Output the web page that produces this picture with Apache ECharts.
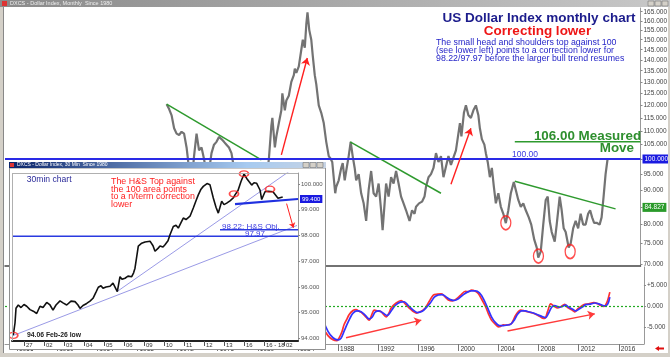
<!DOCTYPE html>
<html><head><meta charset="utf-8">
<script src="https://cdn.jsdelivr.net/npm/echarts@6/dist/echarts.min.js"></script>
<style>
html,body{margin:0;padding:0;background:#fff;overflow:hidden;}
#main{position:absolute;left:0;top:0;width:670px;height:357px;}
#inset{position:absolute;left:9px;top:162px;width:317px;height:188px;background:#fff;}
</style></head><body>
<div id="main"></div><div id="inset"></div>
<script>
const FONT = "'Liberation Sans', Arial, sans-serif";
const L = v => Math.log10(v);

// ---------- main chart data ----------
const yearTicks = [1956,1960,1964,1968,1972,1976,1980,1984,1988,1992,1996,2000,2004,2008,2012,2016];
const priceTicks = [70,75,80,85,90,95,100,105,110,115,120,125,130,135,140,145,150,155,160,165];
const macdTicks = [-5,0,5];
const dxy = [
[1971.00,120.5],[1971.25,118.5],[1971.50,116],[1971.75,111],[1972.00,109],[1972.25,108.5],[1972.50,109.7],[1972.75,109],
[1973.00,104],[1973.17,99],[1973.50,92],[1973.75,101],[1974.00,109],[1974.25,103],[1974.50,104],[1974.75,100],
[1975.00,95],[1975.25,96],[1975.50,102],[1975.75,105],[1976.00,106],[1976.25,107.8],[1976.50,107],[1976.75,106],
[1977.00,105],[1977.25,104],[1977.50,102],[1977.75,97],[1978.00,93],[1978.25,91],[1978.50,87],[1978.75,84],
[1979.00,88],[1979.25,88.5],[1979.50,86],[1979.75,86.5],[1980.00,86],[1980.25,90],[1980.50,85],[1980.75,88],
[1981.00,93],[1981.25,100],[1981.50,112],[1981.60,115],[1981.85,104],[1982.00,108],[1982.25,113],[1982.50,118],
[1982.60,125],[1982.85,118],[1983.00,122],[1983.25,124],[1983.50,130],[1983.75,133],[1983.85,136],[1984.00,134],
[1984.25,137],[1984.50,145],[1984.65,150],[1984.85,146],[1985.00,158],[1985.12,164.7],[1985.30,155],[1985.50,150],
[1985.65,142],[1985.85,133],[1986.00,129],[1986.25,120],[1986.50,117],[1986.75,113],[1987.00,106],[1987.25,101],
[1987.40,100.3],[1987.60,99],[1987.90,89],[1988.00,91],[1988.25,93],[1988.50,97],[1988.65,98.6],[1988.85,93],
[1989.00,96],[1989.25,101],[1989.45,106],[1989.65,101],[1989.85,97],[1990.00,93],[1990.25,95],[1990.50,89],
[1990.75,86],[1991.00,81],[1991.25,90],[1991.50,96],[1991.75,89],[1992.00,88],[1992.25,92],[1992.50,84],
[1992.65,78.5],[1992.85,86],[1993.00,92],[1993.25,88],[1993.50,94],[1993.75,92],[1994.00,96],[1994.25,92],
[1994.50,88],[1994.75,86],[1995.00,84],[1995.35,81],[1995.60,84],[1995.85,83],[1996.00,85],[1996.30,86],
[1996.60,86.5],[1996.85,88],[1997.00,91],[1997.25,94],[1997.50,95],[1997.75,97],[1998.00,102],[1998.25,99],
[1998.50,101],[1998.75,94],[1998.90,94],[1999.25,101],[1999.50,98],[1999.80,101],[2000.00,103],[2000.40,113],
[2000.55,108],[2000.80,117],[2001.00,120],[2001.25,116],[2001.50,115],[2001.75,118],[2002.00,120],[2002.25,116],
[2002.40,111],[2002.60,107],[2002.85,105],[2003.00,102],[2003.20,98.7],[2003.40,94],[2003.60,97],[2003.80,91],
[2004.00,86],[2004.25,89],[2004.50,85],[2004.75,83],[2005.00,80.4],[2005.25,84],[2005.50,89],[2005.80,92.5],
[2006.00,90],[2006.25,87],[2006.50,85],[2006.75,86],[2007.00,84],[2007.30,82],[2007.55,80],[2007.85,76],
[2008.10,74],[2008.25,71.5],[2008.50,73],[2008.75,80],[2009.00,87],[2009.20,88],[2009.40,81],[2009.60,78],
[2009.90,75.5],[2010.10,80],[2010.40,88],[2010.60,84],[2010.80,79],[2011.00,78],[2011.30,74],[2011.50,75],
[2011.75,79],[2012.00,81],[2012.25,79],[2012.50,83],[2012.75,80],[2013.00,80],[2013.25,83],[2013.45,84],
[2013.65,82],[2013.85,80.5],[2014.10,80.5],[2014.40,80],[2014.60,82],[2014.80,88],[2015.00,95],[2015.20,100]
];
const macdLine = [
[1985.0,6],[1985.5,4],[1986.0,-1],[1986.5,-5],[1987.0,-7],[1987.5,-8],[1987.9,-8.2],[1988.1,-7.6],[1988.4,-6],
[1988.6,-4.4],[1988.9,-3],[1989.1,-2],[1989.5,-1],[1989.8,-0.8],[1990.1,-1.2],[1990.4,-1.6],[1990.8,-2.6],
[1991.1,-3.3],[1991.4,-1.8],[1991.6,-0.9],[1992.0,-1.1],[1992.3,-1.3],[1992.8,-2.5],[1993.1,-1.5],[1993.3,-0.4],
[1993.8,0.8],[1994.3,1.4],[1994.7,0.6],[1995.1,-0.4],[1995.8,-1.6],[1996.3,-1.2],[1996.7,-0.4],[1997.1,1.2],
[1997.5,2.7],[1997.9,2.9],[1998.3,3.0],[1998.7,2.2],[1999.0,1.5],[1999.4,1.3],[1999.7,1.6],[2000.2,2.6],
[2000.7,3.6],[2001.0,3.5],[2001.3,3.9],[2001.7,3.6],[2002.0,3.0],[2002.3,1.8],[2002.7,0],[2003.0,-1.8],
[2003.3,-3.3],[2003.7,-4.3],[2004.0,-4.9],[2004.2,-4.8],[2004.5,-4.4],[2004.7,-4.5],[2005.0,-4.4],[2005.3,-4.1],
[2005.7,-2.2],[2006.0,-1.2],[2006.2,-0.9],[2006.6,-1.1],[2006.9,-1.3],[2007.4,-1.6],[2007.9,-2.1],[2008.3,-2.7],
[2008.6,-2.9],[2008.9,-1.2],[2009.2,0.6],[2009.5,0.1],[2009.9,-0.4],[2010.2,-0.1],[2010.6,0.5],[2010.9,-0.3],
[2011.3,-0.8],[2011.6,-1.3],[2011.9,-0.6],[2012.3,0.1],[2012.6,0.5],[2013.0,0.6],[2013.5,0.9],[2013.9,0.6],
[2014.2,0.2],[2014.5,0],[2014.8,0.9],[2015.1,3.4]
];
const signalLine = [
[1985.0,7],[1985.5,5.5],[1986.0,1.5],[1986.5,-3],[1987.0,-6],[1987.5,-7.5],[1988.0,-8.0],[1988.3,-7.6],[1988.6,-6],
[1988.9,-4.3],[1989.2,-2.8],[1989.5,-1.6],[1989.9,-1.1],[1990.3,-1.3],[1990.7,-2.1],[1991.1,-3.0],[1991.4,-2.6],
[1991.7,-1.4],[1992.1,-1.1],[1992.5,-1.6],[1992.9,-2.2],[1993.3,-1.1],[1993.7,0.2],[1994.2,1.0],[1994.6,1.1],
[1995.0,0.2],[1995.5,-0.9],[1995.9,-1.5],[1996.4,-1.2],[1996.8,-0.3],[1997.2,0.8],[1997.6,2.2],[1998.0,2.7],
[1998.4,2.8],[1998.8,2.2],[1999.2,1.6],[1999.6,1.4],[2000.0,1.8],[2000.5,2.8],[2000.9,3.4],[2001.3,3.7],
[2001.7,3.7],[2002.1,3.2],[2002.5,1.8],[2002.9,-0.3],[2003.3,-2.5],[2003.7,-3.9],[2004.1,-4.6],[2004.5,-4.6],
[2004.8,-4.5],[2005.2,-4.3],[2005.6,-3.2],[2005.9,-1.9],[2006.3,-1.1],[2006.7,-1.1],[2007.0,-1.3],[2007.5,-1.6],
[2007.9,-2.0],[2008.4,-2.5],[2008.7,-2.7],[2009.0,-1.6],[2009.3,-0.2],[2009.6,0.2],[2010.0,-0.2],[2010.3,-0.1],
[2010.7,0.3],[2011.0,-0.2],[2011.4,-0.7],[2011.7,-1.1],[2012.0,-0.7],[2012.4,-0.1],[2012.7,0.4],[2013.1,0.5],
[2013.6,0.8],[2014.0,0.6],[2014.3,0.3],[2014.6,0.1],[2014.9,0.6],[2015.1,2.2]
];
const trendA = [[1971.0,120.5],[1980.5,99.7]];
const trendB = [[1989.4,106],[1998.5,89]];
const trendC = [[2005.9,92.7],[2016.0,84.4]];
const measuredMove = [[2005.9,106],[2018.5,106]];
const priceArrows = [[[1982.5,101.4],[1985.1,141]],[[1999.5,91.8],[2001.5,111]]];
const macdArrows = [[[1988.8,-7.5],[1996.3,-3.3]],[[2004.9,-5.9],[2013.6,-1.8]]];
const lowCircles = [[2005.0,80.5],[2008.27,71.9],[2011.45,73.0]];

const arrowLines = (arr, tf) => arr.map(a => [{coord:[a[0][0], tf(a[0][1])]},{coord:[a[1][0], tf(a[1][1])]}]);
const ident = v => v;

const main = echarts.init(document.getElementById('main'));
main.setOption({
  animation:false,
  backgroundColor:'#fff',
  textStyle:{fontFamily:FONT},
  grid:[{left:5,top:8,width:641,height:258},{left:5,top:267,width:641,height:77}],
  xAxis:[
    {gridIndex:0,type:'value',min:1954.8,max:2018.5,
     axisLine:{show:true,onZero:false,lineStyle:{color:'#444',width:1.5}},axisTick:{show:false},axisLabel:{show:false},splitLine:{show:false}},
    {gridIndex:1,type:'value',min:1954.8,max:2018.5,
     axisLine:{show:true,onZero:false,lineStyle:{color:'#999'}},
     axisTick:{show:true,customValues:yearTicks,length:7,lineStyle:{color:'#777'}},
     axisLabel:{customValues:yearTicks,formatter:v=>String(Math.round(v)),fontSize:6.5,color:'#333',align:'left',margin:2,padding:[0,0,0,2]},
     splitLine:{show:false}}
  ],
  yAxis:[
    {gridIndex:0,type:'value',position:'right',min:L(69.5),max:L(167.1),
     axisLine:{show:true,onZero:false,lineStyle:{color:'#999'}},
     axisTick:{show:true,customValues:priceTicks.map(L),length:2,lineStyle:{color:'#888'}},
     axisLabel:{customValues:priceTicks.map(L),formatter:v=>Math.round(Math.pow(10,v)).toFixed(3),fontSize:6.5,color:'#444',margin:3},
     splitLine:{show:false}},
    {gridIndex:1,type:'value',position:'right',min:-9,max:9.4,
     axisLine:{show:true,onZero:false,lineStyle:{color:'#999'}},
     axisTick:{show:true,customValues:macdTicks,length:2,lineStyle:{color:'#888'}},
     axisLabel:{customValues:macdTicks,formatter:v=>v>0?'+'+v.toFixed(3):v.toFixed(3),fontSize:6.5,color:'#444',margin:3},
     splitLine:{show:false}}
  ],
  series:[
    {type:'line',name:'DXY',xAxisIndex:0,yAxisIndex:0,data:dxy.map(p=>[p[0],L(p[1])]),showSymbol:false,
     lineStyle:{color:'#737373',width:2.2},z:3,
     markLine:{silent:true,symbol:['none','none'],animation:false,
       data:[{yAxis:L(100),lineStyle:{color:'#2a2ae6',width:2,type:'solid'},
              label:{show:true,position:'end',formatter:'100.000',backgroundColor:'#1a1ae0',color:'#fff',fontSize:6.5,padding:[1,2],distance:2}}]}},
    {type:'line',name:'trendA',xAxisIndex:0,yAxisIndex:0,data:trendA.map(p=>[p[0],L(p[1])]),showSymbol:false,lineStyle:{color:'#2e9a2e',width:1.5},z:4},
    {type:'line',name:'trendB',xAxisIndex:0,yAxisIndex:0,data:trendB.map(p=>[p[0],L(p[1])]),showSymbol:false,lineStyle:{color:'#2e9a2e',width:1.5},z:4},
    {type:'line',name:'trendC',xAxisIndex:0,yAxisIndex:0,data:trendC.map(p=>[p[0],L(p[1])]),showSymbol:false,lineStyle:{color:'#2e9a2e',width:1.5},z:4,
     markPoint:{silent:true,animation:false,symbol:'rect',symbolSize:[0,0],
       data:[{coord:[2018.5,L(84.827)],label:{show:true,position:'right',distance:2,formatter:'84.827',backgroundColor:'#2a9a2a',color:'#fff',fontSize:6.5,padding:[1,2]}}]}},
    {type:'line',name:'measured',xAxisIndex:0,yAxisIndex:0,data:measuredMove.map(p=>[p[0],L(p[1])]),showSymbol:false,lineStyle:{color:'#2e9a2e',width:1.5},z:4,
     markLine:{silent:true,animation:false,symbol:['none','arrow'],symbolSize:7,
       lineStyle:{color:'#ff2020',width:1.4,type:'solid'},label:{show:false},
       data:arrowLines(priceArrows,L)}},
    {type:'scatter',name:'lows',xAxisIndex:0,yAxisIndex:0,data:lowCircles.map(p=>[p[0],L(p[1])]),symbol:'circle',symbolSize:[10,14],
     itemStyle:{color:'rgba(0,0,0,0)',borderColor:'#ff2020',borderWidth:1.5},z:5},
    {type:'line',name:'MACD',xAxisIndex:1,yAxisIndex:1,data:macdLine,showSymbol:false,smooth:0.3,lineStyle:{color:'#ff3030',width:1.7},z:3,
     markLine:{silent:true,animation:false,symbol:['none','none'],
       data:[{yAxis:0,lineStyle:{color:'#22aa22',width:1.2,type:[2,2]},label:{show:false}}]}},
    {type:'line',name:'Signal',xAxisIndex:1,yAxisIndex:1,data:signalLine,showSymbol:false,smooth:0.3,lineStyle:{color:'#3333ff',width:1.7},z:4,
     markLine:{silent:true,animation:false,symbol:['none','arrow'],symbolSize:7,
       lineStyle:{color:'#ff3a3a',width:1.4,type:'solid'},label:{show:false},
       data:arrowLines(macdArrows,ident)}}
  ],
  graphic:[
    {type:'rect',shape:{x:0,y:0,width:670,height:7},style:{fill:new echarts.graphic.LinearGradient(0,0,1,0,[{offset:0,color:'#8a8a8a'},{offset:1,color:'#c8c8c8'}])},z:50},
    {type:'rect',shape:{x:2,y:1,width:5,height:5},style:{fill:'#d33'},z:51},
    {type:'text',x:10,y:3.5,style:{text:'DXCS - Dollar Index, Monthly  Since 1980',fill:'#eeeeee',font:'5.5px '+FONT,verticalAlign:'middle',textVerticalAlign:'middle'},z:51},
    {type:'rect',shape:{x:648,y:1,width:6,height:5},style:{fill:'#d4d0c8',stroke:'#666',lineWidth:0.5},z:51},
    {type:'rect',shape:{x:655,y:1,width:6,height:5},style:{fill:'#d4d0c8',stroke:'#666',lineWidth:0.5},z:51},
    {type:'rect',shape:{x:662,y:1,width:6,height:5},style:{fill:'#d4d0c8',stroke:'#666',lineWidth:0.5},z:51},
    {type:'rect',shape:{x:0,y:7,width:3,height:350},style:{fill:'#d4d0c8'},z:50},
    {type:'line',shape:{x1:3.5,y1:7,x2:3.5,y2:353},style:{stroke:'#888',lineWidth:1},z:50},
    {type:'rect',shape:{x:668,y:7,width:2,height:350},style:{fill:'#d4d0c8'},z:50},
    {type:'rect',shape:{x:0,y:353,width:670,height:4},style:{fill:'#d4d0c8'},z:50},
    {type:'text',x:539,y:18,style:{text:'US Dollar Index monthly chart',fill:'#1c1c8c',font:'bold 13.5px '+FONT,align:'center',textAlign:'center',verticalAlign:'middle',textVerticalAlign:'middle'},z:60},
    {type:'text',x:537.5,y:31.5,style:{text:'Correcting lower',fill:'#ee1515',font:'bold 13.5px '+FONT,align:'center',textAlign:'center',verticalAlign:'middle',textVerticalAlign:'middle'},z:60},
    {type:'text',x:436,y:38.5,style:{text:'The small head and shoulders top against 100\n(see lower left) points to a correction lower for\n98.22/97.97 before the larger bull trend resumes',fill:'#2525c8',font:'8.8px '+FONT,lineHeight:8,verticalAlign:'top',textVerticalAlign:'top'},z:60},
    {type:'text',x:587.5,y:136,style:{text:'106.00 Measured',fill:'#2e8f2e',font:'bold 13.4px '+FONT,align:'center',textAlign:'center',verticalAlign:'middle',textVerticalAlign:'middle'},z:60},
    {type:'text',x:634,y:148,style:{text:'Move',fill:'#2e8f2e',font:'bold 13.4px '+FONT,align:'right',textAlign:'right',verticalAlign:'middle',textVerticalAlign:'middle'},z:60},
    {type:'text',x:512,y:155,style:{text:'100.00',fill:'#3a3ae0',font:'8.5px '+FONT,verticalAlign:'middle',textVerticalAlign:'middle'},z:60},
    {type:'rect',shape:{x:652,y:346,width:12,height:5},style:{fill:'#fff'},z:55},
    {type:'polygon',shape:{points:[[655,348.5],[659,346],[659,347.5],[664,347.5],[664,349.5],[659,349.5],[659,351]]},style:{fill:'#e01010'},z:56}
  ]
});

// ---------- inset (30 min) chart data ----------
const dayTicks = [1,2,3,4,5,6,7,8,9,10,11,12,13,14];
const dayLabels = ['27','02','03','04','05','06','09','10','11','12','13','16','16 - 18','02'];
const insetTicks = [94,95,96,97,98,99,100];
const bars30m = [
[0.465,94.13],[0.55,94.6],[0.6,95.17],[0.715,95.3],[0.85,95.2],[1.0,95.32],[1.135,95.25],[1.3,95.12],[1.465,95.06],
[1.635,94.97],[1.8,95.25],[1.95,95.2],[2.135,95.4],[2.3,95.3],[2.45,95.1],[2.6,95.3],[2.8,95.46],[2.95,95.38],
[3.135,95.3],[3.35,95.45],[3.55,95.43],[3.7,95.3],[3.8,95.17],[3.95,95.28],[4.135,95.36],[4.3,95.45],[4.45,95.56],
[4.6,95.8],[4.715,95.99],[4.85,96.05],[4.95,95.95],[5.1,96.0],[5.3,96.03],[5.45,96.15],[5.55,96.2],[5.665,95.82],
[5.8,96.4],[5.9,96.3],[6.05,96.34],[6.2,96.42],[6.385,96.4],[6.48,96.55],[6.55,96.73],[6.715,97.59],[6.885,97.7],
[7.05,97.75],[7.3,97.78],[7.45,97.6],[7.55,97.39],[7.7,97.5],[7.8,97.59],[7.95,97.55],[8.05,97.64],[8.2,97.8],
[8.3,98.03],[8.465,98.35],[8.6,98.4],[8.715,98.29],[8.85,98.5],[8.965,98.68],[9.1,98.62],[9.3,98.75],[9.465,99.07],
[9.6,99.35],[9.715,99.58],[9.85,99.8],[9.965,99.91],[10.15,100.02],[10.3,99.97],[10.465,99.46],[10.6,99.1],
[10.715,98.87],[10.885,99.33],[11.0,99.2],[11.135,99.26],[11.3,99.35],[11.465,99.46],[11.55,99.58],[11.7,99.75],
[11.85,100.1],[12.0,100.39],[12.135,100.22],[12.25,100.1],[12.385,99.96],[12.5,100.05],[12.635,100.03],[12.8,99.77],
[12.885,99.4],[13.05,99.7],[13.2,99.72],[13.3,99.79],[13.45,99.7],[13.55,99.64],[13.7,99.45],[13.8,99.38],[13.935,99.5]
];
const neckline = [[11.55,99.22],[14.7,99.42]];
const objective = [[10.8,98.22],[14.7,98.22]];
const support = [[0.4,97.97],[14.7,97.97]];
const lavender1 = [[0.45,94.11],[14.65,98.39]];
const lavender2 = [[5.65,95.82],[14.4,100.57]];
const insetArrow = [[[14.13,99.24],[14.47,98.30]]];
const insetCircles = [[0.465,94.12],[11.5,99.62],[12.0,100.4],[13.3,99.8]];

const inset = echarts.init(document.getElementById('inset'));
inset.setOption({
  animation:false,
  backgroundColor:'#fff',
  textStyle:{fontFamily:FONT},
  grid:{left:3,top:11,width:286,height:168},
  xAxis:{type:'value',min:0.4,max:14.7,
    axisLine:{show:true,onZero:false,lineStyle:{color:'#222',width:2}},
    axisTick:{show:true,customValues:dayTicks,length:5,lineStyle:{color:'#555'}},
    axisLabel:{customValues:dayTicks,formatter:v=>dayLabels[Math.round(v)-1],fontSize:6,color:'#333',align:'left',margin:1,padding:[0,0,0,2]},
    splitLine:{show:false}},
  yAxis:{type:'value',position:'right',min:93.9,max:100.43,
    axisLine:{show:true,onZero:false,lineStyle:{color:'#999'}},
    axisTick:{show:true,customValues:insetTicks,length:2,lineStyle:{color:'#888'}},
    axisLabel:{customValues:insetTicks,formatter:v=>v.toFixed(3),fontSize:6,color:'#555',margin:3},
    splitLine:{show:false}},
  series:[
    {type:'line',name:'lav1',data:lavender1,showSymbol:false,lineStyle:{color:'#9a9ae6',width:1},z:2},
    {type:'line',name:'lav2',data:lavender2,showSymbol:false,lineStyle:{color:'#9a9ae6',width:1},z:2},
    {type:'line',name:'support',data:support,showSymbol:false,lineStyle:{color:'#2a3ae0',width:1.5},z:2},
    {type:'line',name:'objective',data:objective,showSymbol:false,lineStyle:{color:'#2a3ae0',width:1.5},z:2},
    {type:'line',name:'30m',data:bars30m,showSymbol:false,lineStyle:{color:'#111',width:1.6},z:3},
    {type:'line',name:'neck',data:neckline,showSymbol:false,lineStyle:{color:'#2030e0',width:2.2},z:4,
     markPoint:{silent:true,animation:false,symbol:'rect',symbolSize:[0,0],
       data:[{coord:[14.7,99.42],label:{show:true,position:'right',distance:2,formatter:'99.400',backgroundColor:'#1a1ae0',color:'#fff',fontSize:6,padding:[1,2]}}]},
     markLine:{silent:true,animation:false,symbol:['none','arrow'],symbolSize:5,
       lineStyle:{color:'#ff2020',width:1,type:'solid'},label:{show:false},
       data:arrowLines(insetArrow,ident)}},
    {type:'scatter',name:'circles',data:insetCircles,symbol:'circle',symbolSize:[9,6],
     itemStyle:{color:'rgba(0,0,0,0)',borderColor:'#ff2020',borderWidth:1.5},z:5}
  ],
  graphic:[
    {type:'rect',shape:{x:0,y:0,width:317,height:6},style:{fill:new echarts.graphic.LinearGradient(0,0,1,0,[{offset:0,color:'#0a246a'},{offset:0.75,color:'#a6caf0'},{offset:1,color:'#c8d4e4'}])},z:50},
    {type:'rect',shape:{x:1,y:1,width:4,height:4},style:{fill:'#d33'},z:51},
    {type:'text',x:8,y:3,style:{text:'DXCS - Dollar Index, 30 Min  Since 1980',fill:'#ffffff',font:'5px '+FONT,verticalAlign:'middle',textVerticalAlign:'middle'},z:51},
    {type:'rect',shape:{x:294,y:0.5,width:6,height:5},style:{fill:'#d4d0c8',stroke:'#666',lineWidth:0.5},z:51},
    {type:'rect',shape:{x:301,y:0.5,width:6,height:5},style:{fill:'#d4d0c8',stroke:'#666',lineWidth:0.5},z:51},
    {type:'rect',shape:{x:308,y:0.5,width:6,height:5},style:{fill:'#d4d0c8',stroke:'#666',lineWidth:0.5},z:51},
    {type:'rect',shape:{x:0.5,y:6,width:316,height:181.5},style:{fill:'none',stroke:'#909090',lineWidth:1},z:49},
    {type:'line',shape:{x1:3,y1:11.5,x2:289,y2:11.5},style:{stroke:'#b0b0b0',lineWidth:1},z:49},
    {type:'line',shape:{x1:3.5,y1:11,x2:3.5,y2:179},style:{stroke:'#b0b0b0',lineWidth:1},z:49},
    {type:'text',x:17.7,y:17.3,style:{text:'30min chart',fill:'#2a2a99',font:'8.6px '+FONT,verticalAlign:'middle',textVerticalAlign:'middle'},z:60},
    {type:'text',x:102,y:15.5,style:{text:'The H&S Top against\nthe 100 area points\nto a n/term correction\nlower',fill:'#ff2020',font:'8.9px '+FONT,lineHeight:7.8,verticalAlign:'top',textVerticalAlign:'top'},z:60},
    {type:'text',x:18,y:172.7,style:{text:'94.06 Feb-26 low',fill:'#222',font:'bold 6.8px '+FONT,verticalAlign:'middle',textVerticalAlign:'middle'},z:60},
    {type:'text',x:213,y:64.7,style:{text:'98.22: H&S Obj.',fill:'#3a3ae0',font:'8px '+FONT,verticalAlign:'middle',textVerticalAlign:'middle'},z:60},
    {type:'text',x:236,y:71.3,style:{text:'97.97',fill:'#3a3ae0',font:'8px '+FONT,verticalAlign:'middle',textVerticalAlign:'middle'},z:60}
  ]
});
</script></body></html>
